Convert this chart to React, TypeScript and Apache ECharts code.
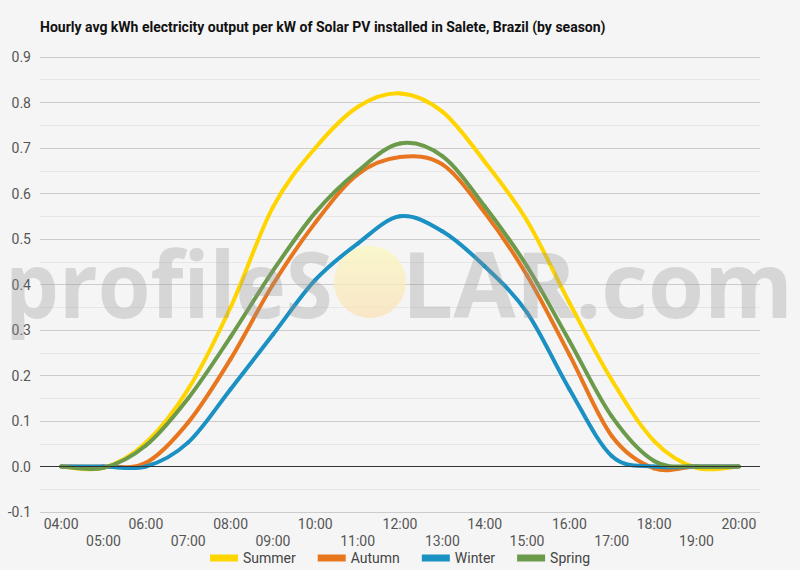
import React, { useEffect, useRef } from 'react';
import * as echarts from 'echarts';

// hourly categories and per-season average output (kWh per kW installed)
const hours = [
  '04:00', '05:00', '06:00', '07:00', '08:00', '09:00', '10:00', '11:00', '12:00',
  '13:00', '14:00', '15:00', '16:00', '17:00', '18:00', '19:00', '20:00'
];
const summer = [0, -0.003, 0.052, 0.17, 0.35, 0.57, 0.7, 0.79, 0.82, 0.78, 0.67, 0.54, 0.36, 0.19, 0.056, -0.003, 0];
const autumn = [0, 0, 0.008, 0.097, 0.236, 0.4, 0.536, 0.642, 0.68, 0.664, 0.558, 0.42, 0.246, 0.067, -0.004, 0, 0];
const winter = [0, 0, 0, 0.053, 0.17, 0.29, 0.41, 0.49, 0.55, 0.517, 0.44, 0.338, 0.17, 0.023, 0, 0, 0];
const spring = [0, -0.003, 0.046, 0.15, 0.285, 0.43, 0.558, 0.649, 0.71, 0.682, 0.572, 0.44, 0.276, 0.11, 0.012, 0, 0];

const seriesNames = ['Summer', 'Autumn', 'Winter', 'Spring'];
const seriesData = [summer, autumn, winter, spring];
const colors = ['#FFD500', '#E8761F', '#1B90C2', '#6C9A4B'];

const WM_FONT = '"Open Sans", sans-serif';

// measure text so the watermark can be stretched to its width
function textWidth(txt: string, font: string) {
  const ctx = document.createElement('canvas').getContext('2d');
  if (!ctx) return 1;
  ctx.font = font;
  return ctx.measureText(txt).width || 1;
}

// one catmull-rom segment (point j -> j+1) per data item
function makeRenderItem(arr: number[], color: string) {
  return (params: any, api: any) => {
    const j = params.dataIndex;
    if (j >= arr.length - 1) return null;
    const p0 = api.coord([Math.max(j - 1, 0), arr[Math.max(j - 1, 0)]]);
    const p1 = api.coord([j, arr[j]]);
    const p2 = api.coord([j + 1, arr[j + 1]]);
    const p3 = api.coord([Math.min(j + 2, arr.length - 1), arr[Math.min(j + 2, arr.length - 1)]]);
    return {
      type: 'bezierCurve',
      shape: {
        x1: p1[0],
        y1: p1[1],
        x2: p2[0],
        y2: p2[1],
        cpx1: p1[0] + (p2[0] - p0[0]) / 6,
        cpy1: p1[1] + (p2[1] - p0[1]) / 6,
        cpx2: p2[0] - (p3[0] - p1[0]) / 6,
        cpy2: p2[1] - (p3[1] - p1[1]) / 6
      },
      style: { stroke: color, lineWidth: 4, fill: 'none', lineCap: 'round' }
    };
  };
}

const App: React.FC = () => {
  const chartRef = useRef<HTMLDivElement>(null);

  useEffect(() => {
    document.body.style.margin = '0';
    if (!chartRef.current) return;
    const chart = echarts.init(chartRef.current, null, { renderer: 'svg' });

    const wmSize = 92;
    const leftW = textWidth('profileS', `bold ${wmSize}px ${WM_FONT}`);
    const rightW = textWidth('LAR.com', `bold ${wmSize}px ${WM_FONT}`);

    const option: echarts.EChartsOption = {
      animation: false,
      backgroundColor: '#f5f5f5',
      textStyle: { fontFamily: 'Roboto, sans-serif' },
      title: {
        text: 'Hourly avg kWh electricity output per kW of Solar PV installed in Salete, Brazil (by season)',
        left: 35,
        top: 15,
        textStyle: { fontSize: 14, fontWeight: 'bold', color: '#111', fontFamily: 'Roboto, sans-serif' }
      },
      legend: {
        data: seriesNames,
        bottom: 0,
        left: 'center',
        icon: 'rect',
        itemWidth: 28,
        itemHeight: 7,
        itemGap: 22,
        textStyle: { fontSize: 14, color: '#444' }
      },
      grid: { left: 40, right: 40, top: 57, bottom: 58, containLabel: false },
      xAxis: {
        type: 'category',
        data: hours,
        boundaryGap: true,
        axisLine: { show: false },
        axisTick: { show: false },
        axisLabel: {
          interval: 0,
          color: '#555',
          fontSize: 14,
          lineHeight: 17,
          margin: 3,
          formatter: (v: string, i: number) => (i % 2 === 1 ? '\n' + v : v)
        }
      },
      yAxis: {
        type: 'value',
        min: -0.1,
        max: 0.9,
        interval: 0.1,
        axisLine: { show: false },
        axisTick: { show: false },
        axisLabel: {
          color: '#555',
          fontSize: 14,
          margin: 9,
          formatter: (v: number) => v.toFixed(1)
        },
        splitLine: { lineStyle: { color: '#cccccc', width: 1 } },
        minorTick: { show: false, splitNumber: 2 },
        minorSplitLine: { show: true, lineStyle: { color: '#e6e6e6', width: 1 } }
      },
      series: [
        {
          type: 'line',
          name: 'zero',
          data: [],
          silent: true,
          markLine: {
            silent: true,
            symbol: 'none',
            label: { show: false },
            lineStyle: { color: '#333', width: 1, type: 'solid' },
            data: [{ yAxis: 0 }]
          }
        },
        ...seriesNames.map((name, i) => ({
          name,
          type: 'custom' as const,
          data: seriesData[i].map((v, j) => [j, v]),
          encode: { x: 0, y: 1 },
          itemStyle: { color: colors[i] },
          renderItem: makeRenderItem(seriesData[i], colors[i]) as any
        }))
      ],
      graphic: [
        {
          type: 'text',
          z: 100,
          x: 5,
          y: 282,
          scaleX: 328 / leftW,
          style: {
            text: 'profileS',
            font: `bold ${wmSize}px ${WM_FONT}`,
            fill: 'rgba(150,150,150,0.32)',
            verticalAlign: 'middle',
            align: 'left'
          }
        },
        {
          type: 'circle',
          z: 100,
          shape: { cx: 370, cy: 282, r: 36 },
          style: {
            fill: new echarts.graphic.LinearGradient(0, 0, 0, 1, [
              { offset: 0, color: 'rgba(250,248,190,0.75)' },
              { offset: 1, color: 'rgba(250,225,185,0.75)' }
            ])
          }
        },
        {
          type: 'text',
          z: 100,
          x: 402,
          y: 282,
          scaleX: 391 / rightW,
          style: {
            text: 'LAR.com',
            font: `bold ${wmSize}px ${WM_FONT}`,
            fill: 'rgba(150,150,150,0.32)',
            verticalAlign: 'middle',
            align: 'left'
          }
        }
      ]
    };

    chart.setOption(option);
    return () => {
      chart.dispose();
    };
  }, []);

  return <div ref={chartRef} style={{ width: '800px', height: '570px' }} />;
};

export default App;
